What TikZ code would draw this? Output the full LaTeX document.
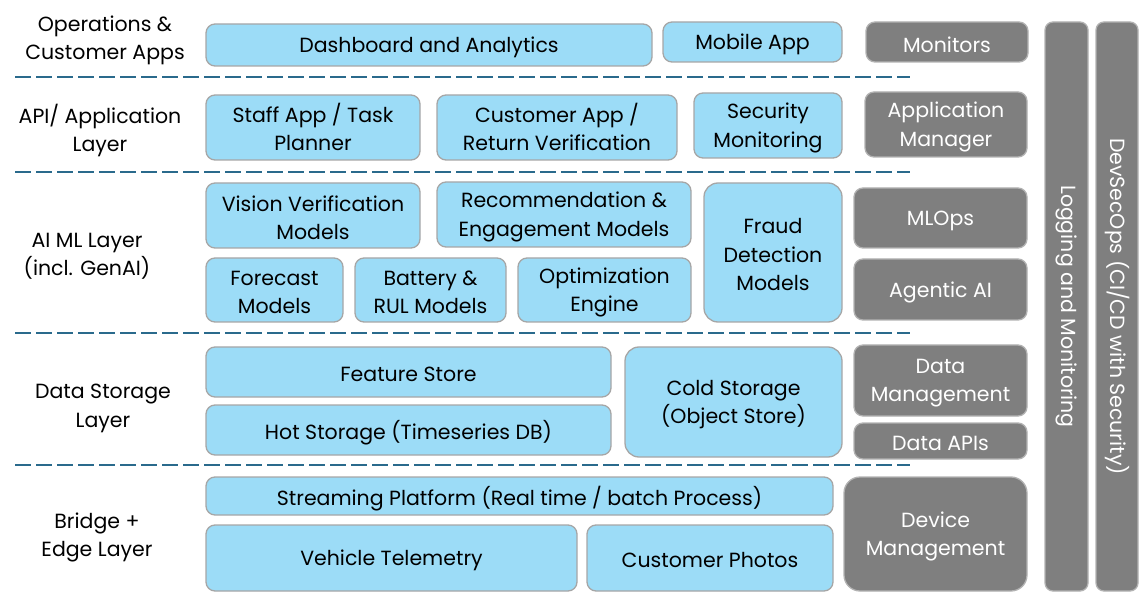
\documentclass[tikz,border=0pt]{standalone}
\usepackage{fontspec}
\setmainfont{Poppins}
\begin{document}
\begin{tikzpicture}[x=1pt,y=-1pt,
  every node/.style={font=\fontsize{20.5}{28.5}\selectfont, align=center, inner sep=0pt},
  bluebox/.style={draw=black!35, line width=1.3pt, fill=skyblue, rounded corners=9pt},
  greybox/.style={draw=black!30, line width=1.3pt, fill=greyfill, rounded corners=9pt},
  highcaption/.style={yshift=3pt},
  layerlabel/.style={text=black},
  sep/.style={draw=sepblue, line width=2pt, dash pattern=on 16pt off 5pt}]
\definecolor{skyblue}{HTML}{9CDCF7}
\definecolor{greyfill}{HTML}{7F7F7F}
\definecolor{sepblue}{HTML}{2A6A8C}
\useasboundingbox (0,0) rectangle (1140,593);

% box helper: name, x1, y1, x2, y2, box style, caption style, caption
% (the caption sits a little below the geometric centre so it looks centred)
\newcommand{\panel}[8]{%
  \node[#6, minimum width={#4-#2}, minimum height={#5-#3}] (#1) at ({(#2+#4)/2},{(#3+#5)/2}) {};
  \node[text=#7] (#1-txt) at ([yshift=-2.5pt]#1.center) {#8};}

% layer labels
\node[layerlabel] (lops) at (105,40.5) {Operations \&\\Customer Apps};
\node[layerlabel] (lapi) at (100,130.5) {API/ Application\\Layer};
\node[layerlabel] (lai) at (87,256.5) {AI ML Layer\\(incl. GenAI)};
\node[layerlabel] (lds) at (103,408.5) {Data Storage\\Layer};
\node[layerlabel] (lbe) at (97,537.5) {Bridge +\\Edge Layer};

% layer separators
\coordinate (s1a) at (15,77);  \coordinate (s1b) at (910,77);
\coordinate (s2a) at (15,172); \coordinate (s2b) at (910,172);
\coordinate (s3a) at (15,333); \coordinate (s3b) at (910,333);
\coordinate (s4a) at (15,465); \coordinate (s4b) at (910,465);
\draw[sep] (s1a) -- (s1b);
\draw[sep] (s2a) -- (s2b);
\draw[sep] (s3a) -- (s3b);
\draw[sep] (s4a) -- (s4b);

% operations & customer apps
\panel{dash}{206}{24}{652}{66}{bluebox}{black}{Dashboard and Analytics}
\panel{mobile}{663}{22}{842}{62}{bluebox}{black}{Mobile App}
\panel{monitors}{866}{22}{1028}{62}{greybox}{white}{Monitors}

% API / application layer
\panel{staff}{206}{95}{420}{160}{bluebox}{black, highcaption}{Staff App / Task\\Planner}
\panel{custapp}{437}{95}{677}{160}{bluebox}{black, highcaption}{Customer App /\\Return Verification}
\panel{secmon}{694}{93}{842}{158}{bluebox}{black}{Security\\Monitoring}
\panel{appmgr}{865}{92}{1027}{157}{greybox}{white}{Application\\Manager}

% AI / ML layer
\panel{vision}{206}{183}{420}{248}{bluebox}{black}{Vision Verification\\Models}
\panel{recom}{437}{182}{691}{247}{bluebox}{black}{Recommendation \&\\Engagement Models}
\panel{forecast}{206}{258}{343}{322}{bluebox}{black}{Forecast\\Models}
\panel{battery}{355}{258}{506}{322}{bluebox}{black}{Battery \&\\RUL Models}
\panel{optim}{518}{258}{691}{322}{bluebox}{black}{Optimization\\Engine}
\panel{fraud}{704}{183}{842}{322}{bluebox, rounded corners=14pt}{black}{Fraud\\Detection\\Models}
\panel{mlops}{854}{188}{1027}{248}{greybox}{white}{MLOps}
\panel{agentic}{854}{259}{1027}{320}{greybox}{white}{Agentic AI}

% data storage layer
\panel{feature}{206}{347}{611}{397}{bluebox}{black}{Feature Store}
\panel{hot}{206}{405}{611}{455}{bluebox}{black}{Hot Storage (Timeseries DB)}
\panel{cold}{625}{347}{842}{457}{bluebox, rounded corners=14pt}{black}{Cold Storage\\(Object Store)}
\panel{datamgmt}{854}{345}{1027}{416}{greybox}{white}{Data\\Management}
\panel{dataapi}{854}{423}{1027}{459}{greybox}{white}{Data APIs}

% bridge + edge layer
\panel{stream}{206}{477}{833}{515}{bluebox}{black}{Streaming Platform (Real time / batch Process)}
\panel{vehicle}{206}{525}{577}{591}{bluebox}{black}{Vehicle Telemetry}
\panel{photos}{587}{525}{833}{591}{bluebox}{black}{Customer Photos}
\panel{devmgmt}{844}{477}{1027}{591}{greybox, rounded corners=16pt}{white}{Device\\Management}

% cross-cutting bars
\node[greybox, rounded corners=8pt, minimum width=43, minimum height=569] (logbar) at (1066.5,306.5) {};
\node[text=white, rotate=-90] (logtxt) at (logbar.center) {Logging and Monitoring};
\node[greybox, rounded corners=8pt, minimum width=42, minimum height=569] (devbar) at (1117,306.5) {};
\node[text=white, rotate=-90] (devtxt) at (devbar.center) {DevSecOps (CI/CD with Security)};
\end{tikzpicture}
\end{document}
